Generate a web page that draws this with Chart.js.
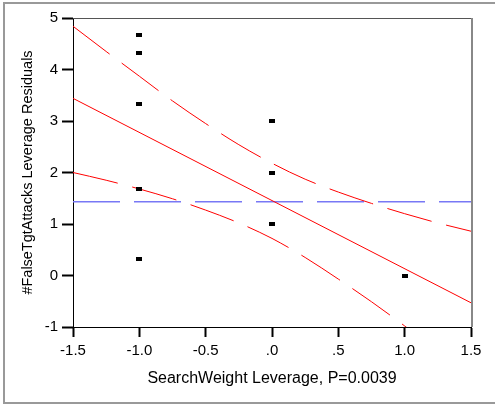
<!DOCTYPE html>
<html>
<head>
<meta charset="utf-8">
<script src="https://cdn.jsdelivr.net/npm/chart.js@4"></script>
<style>
  html, body { margin: 0; padding: 0; background: #fff; }
  #wrap { width: 495px; height: 405px; }
</style>
</head>
<body>
<div id="wrap"><canvas id="leverage-chart" width="495" height="405"></canvas></div>
<script>
// leverage residuals (points)
var pointX = [-1, -1, -1, -1, -1, 0, 0, 0, 1];
var pointY = [4.67, 4.33, 3.33, 1.67, 0.33, 3, 2, 1, 0];

// fitted line
var fitX = [-1.5, 1.5];
var fitY = [3.44, -0.53];

// horizontal mean line
var meanX = [-1.5, 1.5];
var meanY = [1.43, 1.43];

// confidence curves
var bandX = [-1.5, -1.25, -1, -0.75, -0.5, -0.25, 0, 0.25, 0.5, 0.75, 1, 1.25, 1.5];
var upperY = [4.84, 4.35, 3.87, 3.39, 2.95, 2.54, 2.18, 1.87, 1.62, 1.40, 1.20, 1.02, 0.86];
var lowerY = [2.00, 1.85, 1.68, 1.49, 1.27, 1.02, 0.72, 0.35, -0.07, -0.51, -0.98, -1.47, -1.97];

var xTickLabels = ["-1.5", "-1.0", "-0.5", ".0", ".5", "1.0", "1.5"];
var yTickLabels = ["-1", "0", "1", "2", "3", "4", "5"];

function toXY(xs, ys) {
  return xs.map(function(x, i) { return { x: x, y: ys[i] }; });
}

// small black rectangle marker
var marker = document.createElement("canvas");
marker.width = 6;
marker.height = 4;
var mctx = marker.getContext("2d");
mctx.fillStyle = "#000";
mctx.fillRect(0, 0, 6, 4);

var FONT = "'Liberation Sans', Arial, sans-serif";

var framePlugin = {
  id: "frame",
  beforeDraw: function(chart) {
    var ctx = chart.ctx;
    ctx.save();
    ctx.strokeStyle = "#999";
    ctx.lineWidth = 2;
    ctx.beginPath();
    ctx.moveTo(495, 3);
    ctx.lineTo(4, 3);
    ctx.lineTo(4, 403);
    ctx.lineTo(495, 403);
    ctx.stroke();
    ctx.restore();
  },
  afterDraw: function(chart) {
    var ctx = chart.ctx, a = chart.chartArea;
    ctx.save();
    ctx.strokeStyle = "#555";
    ctx.lineWidth = 1;
    ctx.beginPath();
    ctx.moveTo(a.left, a.top + 0.5);
    ctx.lineTo(a.right, a.top + 0.5);
    ctx.stroke();
    ctx.strokeStyle = "#888";
    ctx.lineWidth = 2;
    ctx.beginPath();
    ctx.moveTo(a.right + 1, a.top);
    ctx.lineTo(a.right + 1, a.bottom);
    ctx.stroke();
    ctx.restore();
  }
};

var ctx = document.getElementById("leverage-chart").getContext("2d");
var myChart = new Chart(ctx, {
  type: "scatter",
  data: {
    datasets: [
      {
        label: "Residuals",
        data: toXY(pointX, pointY),
        pointStyle: marker,
        showLine: false
      },
      {
        label: "Fit",
        data: toXY(fitX, fitY),
        showLine: true,
        borderColor: "#ff0000",
        borderWidth: 1,
        pointRadius: 0
      },
      {
        label: "Upper",
        data: toXY(bandX, upperY),
        showLine: true,
        borderColor: "#ff0000",
        borderWidth: 1,
        borderDash: [46, 15],
        cubicInterpolationMode: "monotone",
        pointRadius: 0
      },
      {
        label: "Lower",
        data: toXY(bandX, lowerY),
        showLine: true,
        borderColor: "#ff0000",
        borderWidth: 1,
        borderDash: [46, 15],
        cubicInterpolationMode: "monotone",
        pointRadius: 0
      },
      {
        label: "Mean",
        data: toXY(meanX, meanY),
        showLine: true,
        borderColor: "rgb(120,120,245)",
        borderWidth: 1.5,
        borderDash: [47, 14],
        pointRadius: 0
      }
    ]
  },
  options: {
    responsive: false,
    animation: false,
    devicePixelRatio: 1,
    layout: { padding: { top: 18, right: 24, left: 0, bottom: 0 } },
    plugins: {
      legend: { display: false },
      tooltip: { enabled: false }
    },
    scales: {
      x: {
        type: "linear",
        min: -1.5,
        max: 1.5,
        ticks: {
          stepSize: 0.5,
          color: "#000",
          font: { family: FONT, size: 15 },
          padding: 5,
          maxRotation: 0,
          autoSkip: false,
          callback: function(v, i) { return xTickLabels[i]; }
        },
        grid: { drawOnChartArea: false, drawTicks: true, tickLength: 10, tickColor: "#000", tickWidth: 2 },
        border: { display: true, color: "#000", width: 1 },
        title: {
          display: true,
          text: "SearchWeight Leverage, P=0.0039",
          color: "#000",
          font: { family: FONT, size: 16 },
          padding: { top: 0, bottom: 17 }
        },
        afterFit: function(s) { s.height = 78; }
      },
      y: {
        type: "linear",
        min: -1,
        max: 5,
        ticks: {
          stepSize: 1,
          color: "#000",
          font: { family: FONT, size: 15 },
          padding: 4,
          callback: function(v, i) { return yTickLabels[i]; }
        },
        grid: { drawOnChartArea: false, drawTicks: true, tickLength: 11, tickColor: "#000", tickWidth: 2 },
        border: { display: true, color: "#000", width: 1 },
        title: {
          display: true,
          text: "#FalseTgtAttacks Leverage Residuals",
          color: "#000",
          font: { family: FONT, size: 14.5 },
          padding: { top: 19, bottom: 0 }
        },
        afterFit: function(s) { s.width = 73; }
      }
    }
  },
  plugins: [framePlugin]
});
</script>
</body>
</html>
